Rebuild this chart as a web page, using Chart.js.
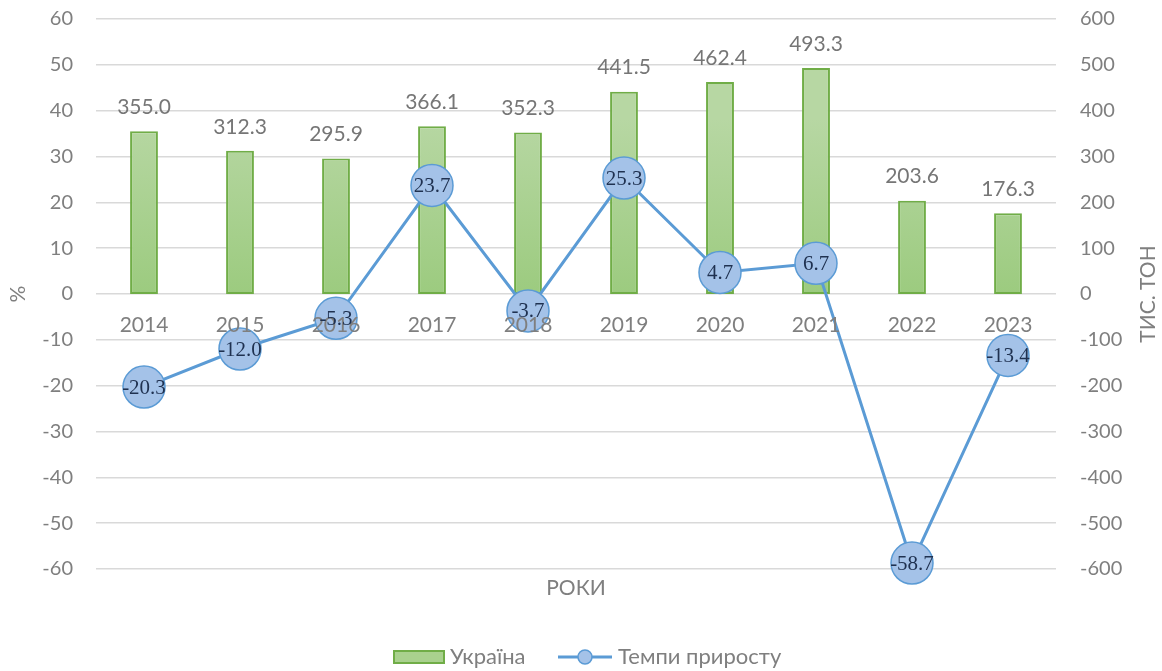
<!DOCTYPE html>
<html>
<head>
<meta charset="utf-8">
<script src="https://cdn.jsdelivr.net/npm/chart.js@4"></script>
<style>
  html, body { margin: 0; padding: 0; background: #fff; }
  #wrap { width: 1162px; height: 671px; }
</style>
</head>
<body>
<div id="wrap"><canvas id="chart" width="1162" height="671"></canvas></div>
<script>
// data
const years = ["2014", "2015", "2016", "2017", "2018", "2019", "2020", "2021", "2022", "2023"];
const ukraine = [355.0, 312.3, 295.9, 366.1, 352.3, 441.5, 462.4, 493.3, 203.6, 176.3];
const growth = [-20.3, -12.0, -5.3, 23.7, -3.7, 25.3, 4.7, 6.7, -58.7, -13.4];
const pctTicks = { min: -60, max: 60, step: 10 };
const tonTicks = { min: -600, max: 600, step: 100 };

const SANS = "Lato, 'Open Sans', sans-serif";
const GREY = "#7f7f7f";

const ctx = document.getElementById("chart").getContext("2d");

// bar fill: light green gradient, a bit lighter at the top
function barFill(c) {
  const area = c.chart.chartArea;
  if (!area) return "#a9d18e";
  const g = c.chart.ctx.createLinearGradient(0, area.top + 100, 0, c.chart.scales.y1.getPixelForValue(0));
  g.addColorStop(0, "#b7d7a3");
  g.addColorStop(1, "#9ccb7f");
  return g;
}

// fixed axis widths, no extra padding for the end tick labels
function fixAxis(w) {
  return (s) => {
    s.width = w;
    s.paddingTop = 0;
    s.paddingBottom = 0;
  };
}

// labels, axis titles, category names and legend drawn on top
const extras = {
  id: "extras",
  afterDraw(chart) {
    const c = chart.ctx;
    const x = chart.scales.x, y = chart.scales.y;
    const zero = y.getPixelForValue(0);
    c.save();
    c.textAlign = "center";
    c.textBaseline = "middle";

    // category labels sit under the zero line (over the markers, like the original)
    c.font = "21px " + SANS;
    c.fillStyle = GREY;
    years.forEach((yr, i) => c.fillText(yr, x.getPixelForValue(i), zero + 31));

    // bar value labels
    c.fillStyle = "#767676";
    chart.getDatasetMeta(1).data.forEach((b, i) => c.fillText(ukraine[i].toFixed(1), b.x, b.y - 24));

    // point labels inside the markers
    c.font = "21px 'Liberation Serif', 'Times New Roman', serif";
    c.fillStyle = "#1f3150";
    chart.getDatasetMeta(0).data.forEach((p, i) => c.fillText(growth[i].toFixed(1), p.x, p.y + 1));

    // axis titles
    c.font = "21px " + SANS;
    c.fillStyle = GREY;
    c.save();
    c.translate(18, zero);
    c.rotate(-Math.PI / 2);
    c.fillText("%", 0, 0);
    c.restore();
    c.save();
    c.translate(1148, zero);
    c.rotate(-Math.PI / 2);
    c.fillText("ТИС. ТОН", 0, 0);
    c.restore();
    c.fillText("РОКИ", (chart.chartArea.left + chart.chartArea.right) / 2, 588);

    // legend
    const ly = 657;
    c.font = "22px " + SANS;
    c.fillStyle = "#a9d18e";
    c.fillRect(394, ly - 6, 50, 12);
    c.strokeStyle = "#70ad47";
    c.lineWidth = 2;
    c.strokeRect(394, ly - 6, 50, 12);
    c.fillStyle = GREY;
    c.textAlign = "left";
    c.fillText("Україна", 450, ly);

    c.strokeStyle = "#5b9bd5";
    c.lineWidth = 3;
    c.beginPath();
    c.moveTo(558, ly);
    c.lineTo(612, ly);
    c.stroke();
    c.beginPath();
    c.arc(585, ly, 7, 0, Math.PI * 2);
    c.fillStyle = "#a4c2e8";
    c.fill();
    c.lineWidth = 1.5;
    c.stroke();
    c.fillStyle = GREY;
    c.fillText("Темпи приросту", 618, ly);
    c.restore();
  }
};

new Chart(ctx, {
  type: "bar",
  data: {
    labels: years,
    datasets: [
      {
        type: "line",
        label: "Темпи приросту",
        data: growth,
        yAxisID: "y",
        order: 0,
        clip: false,
        borderColor: "#5b9bd5",
        borderWidth: 3,
        pointRadius: 21,
        pointBackgroundColor: "#a4c2e8",
        pointBorderColor: "#5b9bd5",
        pointBorderWidth: 1.5,
        tension: 0,
        fill: false
      },
      {
        label: "Україна",
        data: ukraine,
        yAxisID: "y1",
        order: 1,
        backgroundColor: barFill,
        borderColor: "#70ad47",
        borderWidth: 2,
        borderSkipped: false,
        barPercentage: 0.29,
        categoryPercentage: 1
      }
    ]
  },
  options: {
    responsive: false,
    animation: false,
    layout: { autoPadding: false, padding: { top: 19, bottom: 102, left: 0, right: 0 } },
    plugins: {
      legend: { display: false },
      tooltip: { enabled: false }
    },
    scales: {
      x: {
        display: false,
        offset: true
      },
      y: {
        position: "left",
        min: pctTicks.min,
        max: pctTicks.max,
        ticks: { stepSize: pctTicks.step, color: GREY, font: { family: SANS, size: 20 }, padding: 23 },
        grid: { color: "#d9d9d9", lineWidth: 1.5, drawTicks: false },
        border: { display: false },
        afterFit: fixAxis(96)
      },
      y1: {
        position: "right",
        min: tonTicks.min,
        max: tonTicks.max,
        ticks: { stepSize: tonTicks.step, color: GREY, font: { family: SANS, size: 20 }, padding: 24 },
        grid: { display: false, drawTicks: false },
        border: { display: false },
        afterFit: fixAxis(106)
      }
    }
  },
  plugins: [extras]
});
</script>
</body>
</html>
